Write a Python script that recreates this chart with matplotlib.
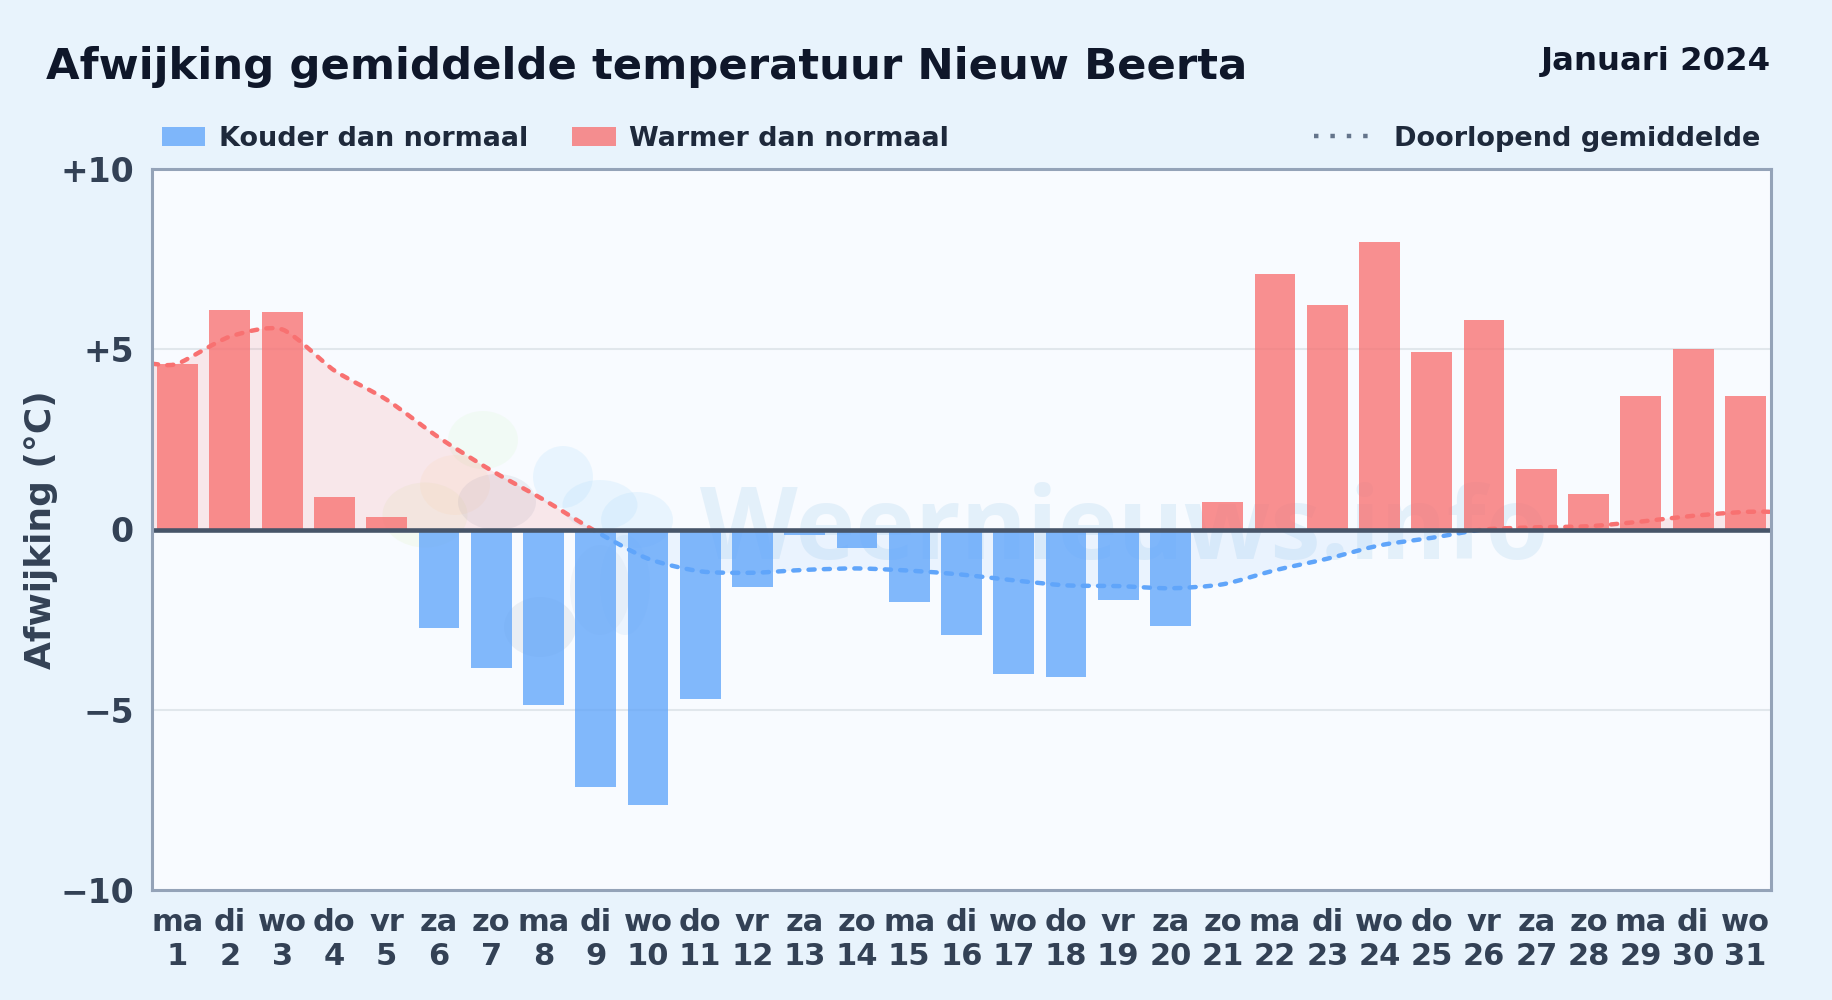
import numpy as np
import matplotlib
matplotlib.use("Agg")
import matplotlib.pyplot as plt
from matplotlib.patches import Rectangle, PathPatch, Ellipse, Patch
from matplotlib.lines import Line2D
from matplotlib.path import Path

plt.rcParams['font.family'] = ['DejaVu Sans']
plt.rcParams['lines.scale_dashes'] = False

weekdays = ['ma','di','wo','do','vr','za','zo','ma','di','wo','do','vr','za','zo','ma','di',
            'wo','do','vr','za','zo','ma','di','wo','do','vr','za','zo','ma','di','wo']
days = list(range(1, 32))
deviation = [4.6, 6.1, 6.03, 0.9, 0.35, -2.72, -3.83, -4.87, -7.13, -7.65, -4.7, -1.6, -0.15, -0.5, -2.0, -2.92,
             -4.0, -4.1, -1.95, -2.67, 0.75, 7.1, 6.23, 7.98, 4.93, 5.8, 1.68, 0.98, 3.7, 5.0, 3.7]
running_mean = [4.6, 5.35, 5.55, 4.41, 3.6, 2.55, 1.64, 0.83, -0.05, -0.81, -1.16, -1.2, -1.12, -1.08, -1.14, -1.25,
                -1.41, -1.55, -1.57, -1.63, -1.52, -1.13, -0.81, -0.44, -0.23, 0.0, 0.06, 0.09, 0.22, 0.38, 0.49]
y_ticks = [-10, -5, 0, 5, 10]
y_tick_labels = ['\u221210', '\u22125', '0', '+5', '+10']

W, H = 1832, 1000
BG = '#e8f3fc'; PLOT_BG = '#f8fbff'; RED = '#f87171'; BLUE = '#60a5fa'
INK = '#334155'; DARK = '#0f172a'; LEG = '#1e293b'
X0, X1 = 0.51, 31.49

fig = plt.figure(figsize=(W/100, H/100), dpi=100, facecolor=BG)
ax = fig.add_axes([152/W, 1-890/H, (1771-152)/W, (890-169)/H], facecolor=PLOT_BG)
ax.set_xlim(X0, X1); ax.set_ylim(-10, 10)

def fx(px): return px/W
def fy(py): return 1-py/H

# watermark
for cx, cy, w, h, c, a in [(483,440,70,58,'#bbf7a0',.10),(425,515,85,65,'#d9f0b0',.16),(455,485,70,60,'#fcd9a0',.13),
                           (497,502,78,56,'#94a3b8',.14),(563,477,60,62,'#93d2fd',.15),(637,520,72,56,'#93d2fd',.15),
                           (600,505,75,50,'#93d2fd',.15),(540,627,72,60,'#94a3b8',.14),(600,590,60,90,'#94a3b8',.08),
                           (625,585,50,100,'#93c5fd',.12)]:
    ax.add_patch(Ellipse((fx(cx),fy(cy)),w/W,h/H,transform=fig.transFigure,fc=c,alpha=a,ec='none',zorder=0.5))
ax.text(fx(1124), fy(532), 'Weernieuws.info', transform=fig.transFigure, ha='center', va='center',
        fontsize=72.7, family='Open Sans', fontweight='bold', color='#93c5e8', alpha=0.2, zorder=0.6)

ax.set_yticks(y_ticks, y_tick_labels)
ax.set_xticks(days, [f'{w}\n{d}' for w, d in zip(weekdays, days)])
ax.grid(axis='y', color='#e1e7ec', lw=1.5, zorder=1)
ax.set_axisbelow(True)
ax.tick_params(axis='both', length=0)
ax.tick_params(axis='x', labelsize=22, labelcolor=INK, pad=13)
ax.tick_params(axis='y', labelsize=23.8, labelcolor=INK, pad=13)
for l in ax.get_xticklabels() + ax.get_yticklabels():
    l.set_fontweight('bold')
for l in ax.get_xticklabels():
    l.set_linespacing(1.2)
for s in ax.spines.values():
    s.set_color('#94a3b8'); s.set_linewidth(2.2); s.set_zorder(6)
ax.set_ylabel('Afwijking (°C)', fontsize=25.9, fontweight='bold', color=INK)
ax.yaxis.set_label_coords(fx(58), fy(530), transform=fig.transFigure)

# running mean curve: edge-to-edge, smooth bezier through the daily values
xs = np.array([X0] + days + [X1], float)
ys = np.array([running_mean[0]] + running_mean + [running_mean[-1]], float)
verts = [(xs[0], ys[0])]; codes = [Path.MOVETO]
for i in range(len(xs)-1):
    p0 = (xs[max(i-1,0)], ys[max(i-1,0)]); p1 = (xs[i], ys[i]); p2 = (xs[i+1], ys[i+1])
    p3 = (xs[min(i+2,len(xs)-1)], ys[min(i+2,len(xs)-1)])
    verts += [(p1[0]+(p2[0]-p0[0])/8, p1[1]+(p2[1]-p0[1])/8),
              (p2[0]-(p3[0]-p1[0])/8, p2[1]-(p3[1]-p1[1])/8), p2]
    codes += [Path.CURVE4]*3
curve = Path(verts, codes)
area = Path(verts + [(xs[-1],0),(xs[0],0),(xs[0],ys[0])], codes + [Path.LINETO,Path.LINETO,Path.CLOSEPOLY])

upper = Rectangle((X0,0),X1-X0,10,transform=ax.transData)
lower = Rectangle((X0,-10),X1-X0,10,transform=ax.transData)
for clip, col, a in [(upper,RED,.14),(lower,BLUE,.09)]:
    p = PathPatch(area, fc=col, ec='none', alpha=a, zorder=1.5); ax.add_patch(p); p.set_clip_path(clip)

colors = [RED if v >= 0 else BLUE for v in deviation]
ax.bar(days, deviation, width=0.78, color=colors, alpha=0.78, lw=0, zorder=2)

for clip, col in [(upper,RED),(lower,BLUE)]:
    p = PathPatch(curve, fc='none', ec=col, lw=3.2, ls=(0,(4.4,6.6)), capstyle='round', joinstyle='round', zorder=3)
    ax.add_patch(p); p.set_clip_path(clip)

ax.axhline(0, color='#475569', lw=3.3, zorder=4)

# titles
fig.text(fx(46), fy(79), 'Afwijking gemiddelde temperatuur Nieuw Beerta', fontsize=31.2, fontweight='bold', color=DARK)
fig.text(fx(1771), fy(70), 'Januari 2024', fontsize=23.3, fontweight='bold', color=DARK, ha='right')

# legends
leg1 = fig.legend(handles=[Patch(fc=BLUE, alpha=.78, ec='none', label='Kouder dan normaal'),
                           Patch(fc=RED, alpha=.78, ec='none', label='Warmer dan normaal')],
                  loc='center left', bbox_to_anchor=(fx(162), fy(138.5)), ncol=2, frameon=False, borderpad=0, borderaxespad=0,
                  prop={'size':19.45,'weight':'bold'}, labelcolor=LEG, handlelength=1.6, handleheight=0.7,
                  handletextpad=0.5, columnspacing=1.64)
leg2 = fig.legend(handles=[Line2D([],[],color='#64748b',lw=3.2,ls=(0,(3.2,8.6)),label='Doorlopend gemiddelde')],
                  loc='center right', bbox_to_anchor=(fx(1760), fy(138.5)), frameon=False, borderpad=0, borderaxespad=0,
                  prop={'size':19.5,'weight':'bold'}, labelcolor=LEG, handlelength=2.1, handletextpad=0.85)
fig.savefig('out.png', dpi=100, facecolor=BG)
